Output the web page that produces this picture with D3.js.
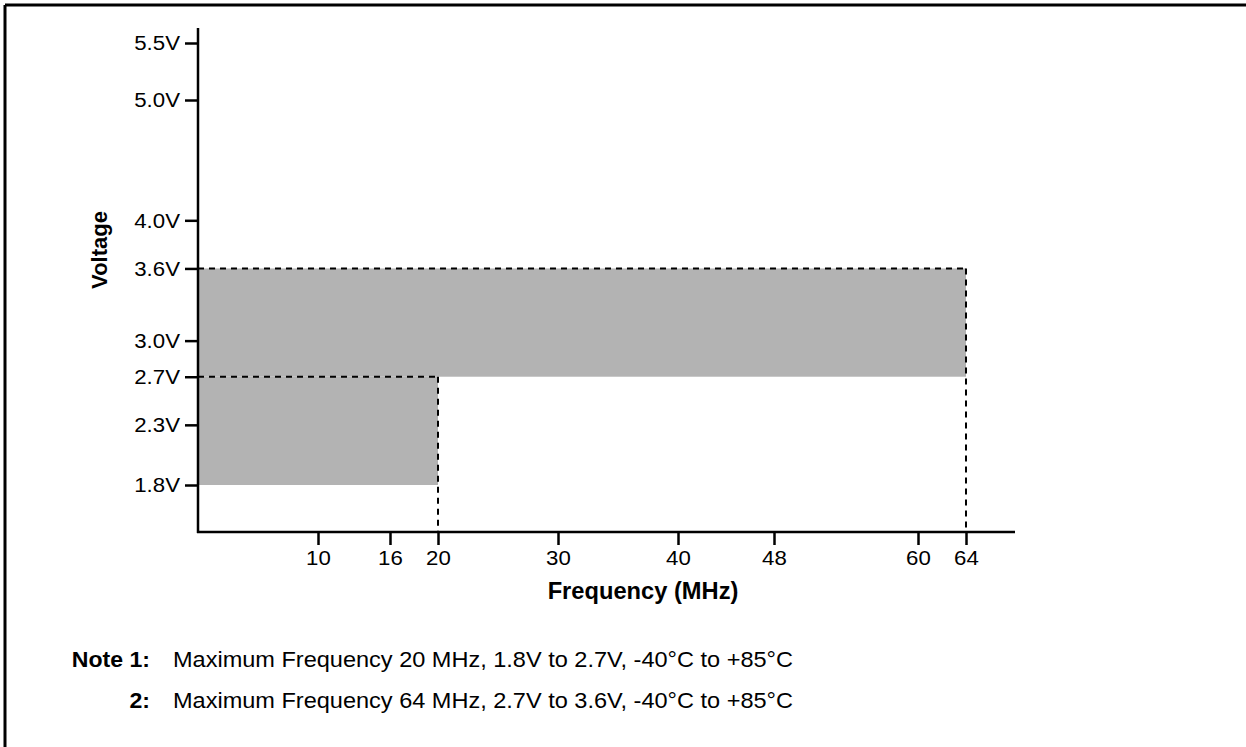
<!DOCTYPE html>
<html>
<head>
<meta charset="utf-8">
<script src="https://cdn.jsdelivr.net/npm/d3@7"></script>
<style>
  html, body { margin: 0; padding: 0; background: #fff; }
  svg { display: block; }
  text { font-family: "Liberation Sans", Arial, Helvetica, sans-serif; fill: #000; }
</style>
</head>
<body>
<svg id="chart" width="1246" height="747"></svg>
<script>
// ---------- data ----------
const xTicks = [10, 16, 20, 30, 40, 48, 60, 64];
const yTicks = [1.8, 2.3, 2.7, 3.0, 3.6, 4.0, 5.0, 5.5];
const regionFreqMax = [20, 64];
const regionVmin = [1.8, 2.7];
const regionVmax = [2.7, 3.6];
const xTitle = "Frequency (MHz)";
const yTitle = "Voltage";
const noteLabels = ["Note 1:", "2:"];
const noteTexts = [
  "Maximum Frequency 20 MHz, 1.8V to 2.7V, -40°C to +85°C",
  "Maximum Frequency 64 MHz, 2.7V to 3.6V, -40°C to +85°C"
];

// ---------- layout ----------
const svg = d3.select("#chart");
const axisX0 = 198, axisY0 = 532, axisTop = 28, axisRight = 1015;
const SX = 1.06; // horizontal text stretch

const x = d3.scaleLinear().domain([0, 68]).range([axisX0, axisX0 + 68 * 12]);
const y = d3.scaleLinear().domain([1.8, 5.0, 5.5]).range([485, 100, 43]);

// frame (top and left page border)
svg.append("line").attr("x1", 5).attr("x2", 1246).attr("y1", 5).attr("y2", 5)
  .attr("stroke", "#000").attr("stroke-width", 3);
svg.append("line").attr("x1", 5).attr("x2", 5).attr("y1", 5).attr("y2", 747)
  .attr("stroke", "#000").attr("stroke-width", 3);

// regions
const regions = regionFreqMax.map((f, i) => ({ f, v0: regionVmin[i], v1: regionVmax[i] }));
svg.append("g").selectAll("rect").data(regions).join("rect")
  .attr("x", x(0))
  .attr("y", d => y(d.v1))
  .attr("width", d => x(d.f) - x(0))
  .attr("height", d => y(d.v0) - y(d.v1))
  .attr("fill", "#b3b3b3");

// dashed boundaries
const dash = svg.append("g").attr("stroke", "#000").attr("stroke-width", 2)
  .attr("stroke-dasharray", "6,5").attr("fill", "none");
regions.forEach(d => {
  dash.append("line").attr("x1", x(0)).attr("x2", x(d.f))
    .attr("y1", y(d.v1)).attr("y2", y(d.v1));
  dash.append("line").attr("x1", x(d.f)).attr("x2", x(d.f))
    .attr("y1", y(d.v1)).attr("y2", axisY0);
});

// axes
const yAxis = d3.axisLeft(y).tickValues(yTicks)
  .tickFormat(v => d3.format(".1f")(v) + "V").tickSize(13).tickPadding(5).tickSizeOuter(0);
const gy = svg.append("g").attr("transform", `translate(${axisX0},0)`).call(yAxis);
gy.select(".domain").remove();
gy.selectAll(".tick line").attr("stroke", "#000").attr("stroke-width", 2.5);
gy.selectAll(".tick text").attr("font-size", 21)
  .attr("x", -18 / SX).attr("transform", `scale(${SX},1)`);

const xAxis = d3.axisBottom(x).tickValues(xTicks).tickSize(13).tickPadding(5).tickSizeOuter(0);
const gx = svg.append("g").attr("transform", `translate(0,${axisY0})`).call(xAxis);
gx.select(".domain").remove();
gx.selectAll(".tick line").attr("stroke", "#000").attr("stroke-width", 2.5);
gx.selectAll(".tick text").attr("font-size", 21).attr("transform", `scale(${SX},1)`).attr("x", 0);

// axis lines
svg.append("line").attr("x1", axisX0).attr("x2", axisX0).attr("y1", axisTop).attr("y2", axisY0 + 1)
  .attr("stroke", "#000").attr("stroke-width", 2.5);
svg.append("line").attr("x1", axisX0 - 1).attr("x2", axisRight).attr("y1", axisY0).attr("y2", axisY0)
  .attr("stroke", "#000").attr("stroke-width", 2.5);

// axis titles
svg.append("text").attr("transform", `translate(643,599) scale(1.03,1)`)
  .attr("text-anchor", "middle").attr("font-weight", "bold").attr("font-size", 23)
  .text(xTitle);
svg.append("text").attr("transform", `translate(107,250) rotate(-90)`)
  .attr("text-anchor", "middle").attr("font-weight", "bold").attr("font-size", 22)
  .text(yTitle);

// notes
const noteY = [667, 708];
noteLabels.forEach((t, i) => {
  svg.append("text").attr("transform", `translate(150,${noteY[i]}) scale(1.05,1)`)
    .attr("text-anchor", "end").attr("font-weight", "bold").attr("font-size", 22).text(t);
  svg.append("text").attr("transform", `translate(173,${noteY[i]}) scale(1.07,1)`)
    .attr("font-size", 22).text(noteTexts[i]);
});
</script>
</body>
</html>
